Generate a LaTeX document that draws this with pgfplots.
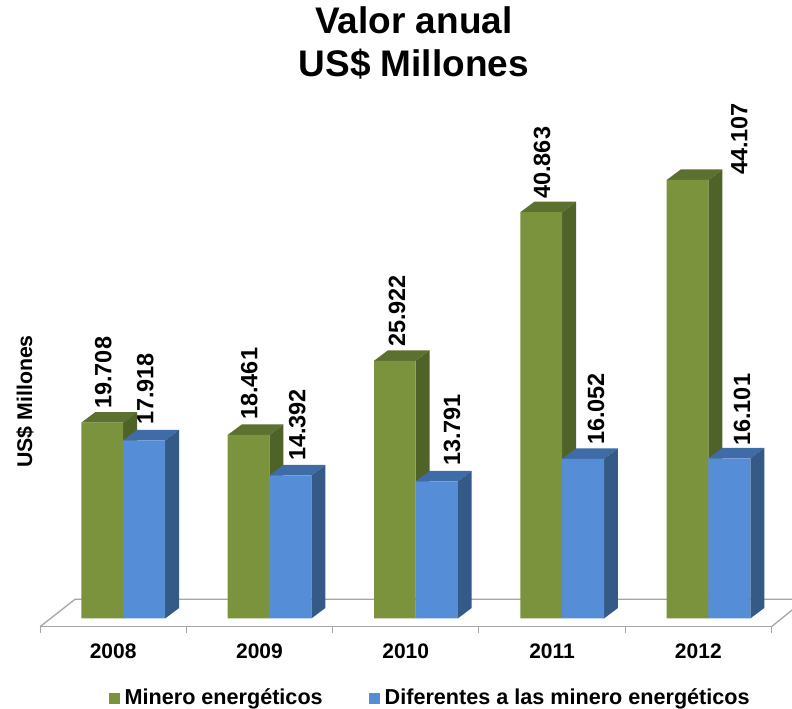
\documentclass[border=0pt]{standalone}
\usepackage{fontspec}
\setmainfont{Liberation Sans}
\usepackage{pgfplots}
\pgfplotsset{compat=1.18}

\definecolor{gfront}{HTML}{7A933C}
\definecolor{gtop}{HTML}{5C7030}
\definecolor{gside}{HTML}{4F6228}
\definecolor{bfront}{HTML}{558DD6}
\definecolor{btop}{HTML}{3F6CA6}
\definecolor{bside}{HTML}{355A88}
\definecolor{floorgrey}{HTML}{A6A6A6}

% top and side of one bar: left edge, right edge, value, colours
\newcommand{\barsolid}[5]{%
  \pgfmathsetmacro\xc{#2+0.0957}%
  \pgfmathsetmacro\xd{#1+0.0957}%
  \edef\vb{\the\numexpr#3+1056\relax}%
  \edef\temp{\noexpand\addplot[forget plot,fill=#4,draw=none] coordinates {(#1,#3) (#2,#3) (\xc,\vb) (\xd,\vb)} -- cycle;
    \noexpand\addplot[forget plot,fill=#5,draw=none] coordinates {(#2,#3) (\xc,\vb) (\xc,1056) (#2,0)} -- cycle;}%
  \temp}

\begin{document}
\begin{tikzpicture}
\path[use as bounding box] (-40pt,-82.3pt) rectangle (752pt,626.7pt);
\begin{axis}[
  scale only axis,
  width=731.5pt,
  height=626.7pt,
  xmin=-0.5, xmax=4.5,
  ymin=-825, ymax=62211,
  clip=false,
  axis x line=bottom,
  axis y line=left,
  x axis line style={draw=floorgrey,line width=1.3pt,-},
  y axis line style={draw=none},
  xtick={0,1,2,3,4},
  xticklabels={2008,2009,2010,2011,2012},
  minor xtick={-0.5,0.5,1.5,2.5,3.5,4.5},
  major tick length=0pt,
  minor tick length=6pt,
  tick align=outside,
  minor x tick style={draw=floorgrey,line width=1pt},
  ytick=\empty,
  xticklabel style={font=\fontsize{21}{25}\selectfont\bfseries,yshift=-14pt},
  ylabel={US\$ Millones},
  ylabel style={at={(axis description cs:-0.0205,0.3593)},anchor=center,font=\fontsize{21.3}{25}\selectfont\bfseries},
  title={Valor anual\\US\$ Millones},
  title style={at={(axis description cs:0.511,0.9220)},anchor=center,align=center,font=\fontsize{37}{43}\selectfont\bfseries},
  legend columns=2,
  legend style={draw=none,fill=none,at={(axis cs:2.167,-7896)},anchor=center,
    font=\fontsize{21.6}{26}\selectfont\bfseries,
    /tikz/every odd column/.append style={column sep=3pt},
    /tikz/every even column/.append style={column sep=44pt}},
  every node near coord/.append style={rotate=90,anchor=west,inner sep=0pt,text=black,
    font=\fontsize{23.5}{28}\selectfont\bfseries},
]

% back and right edge of the floor
\addplot[forget plot,draw=floorgrey,line width=1.3pt] coordinates {(-0.5,-825) (-0.2605,1931) (4.641,1931)};
\addplot[forget plot,draw=floorgrey,line width=1.3pt] coordinates {(4.5,-825) (4.641,855)};

\barsolid{-0.217}{0.068}{19708}{gtop}{gside}
\barsolid{0.068}{0.355}{17918}{btop}{bside}
\barsolid{0.783}{1.068}{18461}{gtop}{gside}
\barsolid{1.068}{1.355}{14392}{btop}{bside}
\barsolid{1.783}{2.068}{25922}{gtop}{gside}
\barsolid{2.068}{2.355}{13791}{btop}{bside}
\barsolid{2.783}{3.068}{40863}{gtop}{gside}
\barsolid{3.068}{3.355}{16052}{btop}{bside}
\barsolid{3.783}{4.068}{44107}{gtop}{gside}
\barsolid{4.068}{4.355}{16101}{btop}{bside}

\addplot[ybar,bar width=41.7pt,bar shift=-10.9pt,fill=gfront,draw=none,
  legend image code/.code={\fill[gfront] (0pt,-6.5pt) rectangle (11pt,4.5pt);}]
  coordinates {(0,19708) (1,18461) (2,25922) (3,40863) (4,44107)};
\addlegendentry{Minero energéticos}
\addplot[ybar,bar width=42pt,bar shift=31pt,fill=bfront,draw=none,
  legend image code/.code={\fill[bfront] (0pt,-6.5pt) rectangle (11pt,4.5pt);}]
  coordinates {(0,17918) (1,14392) (2,13791) (3,16052) (4,16101)};
\addlegendentry{Diferentes a las minero energéticos}

% value labels, at the place each one stands in the picture
\addplot[forget plot,draw=none,mark=none,nodes near coords,point meta=explicit symbolic]
  table[x=k,y=v,meta=lab] {
k      v      lab
-0.068 21073  19.708
0.219  19463  17.918
0.930  19966  18.461
1.258  15842  14.392
1.941  27308  25.922
2.317  15339  13.791
2.932  42195  40.863
3.301  17451  16.052
4.279  44607  44.107
4.299  17351  16.101
};
\end{axis}
\end{tikzpicture}
\end{document}
